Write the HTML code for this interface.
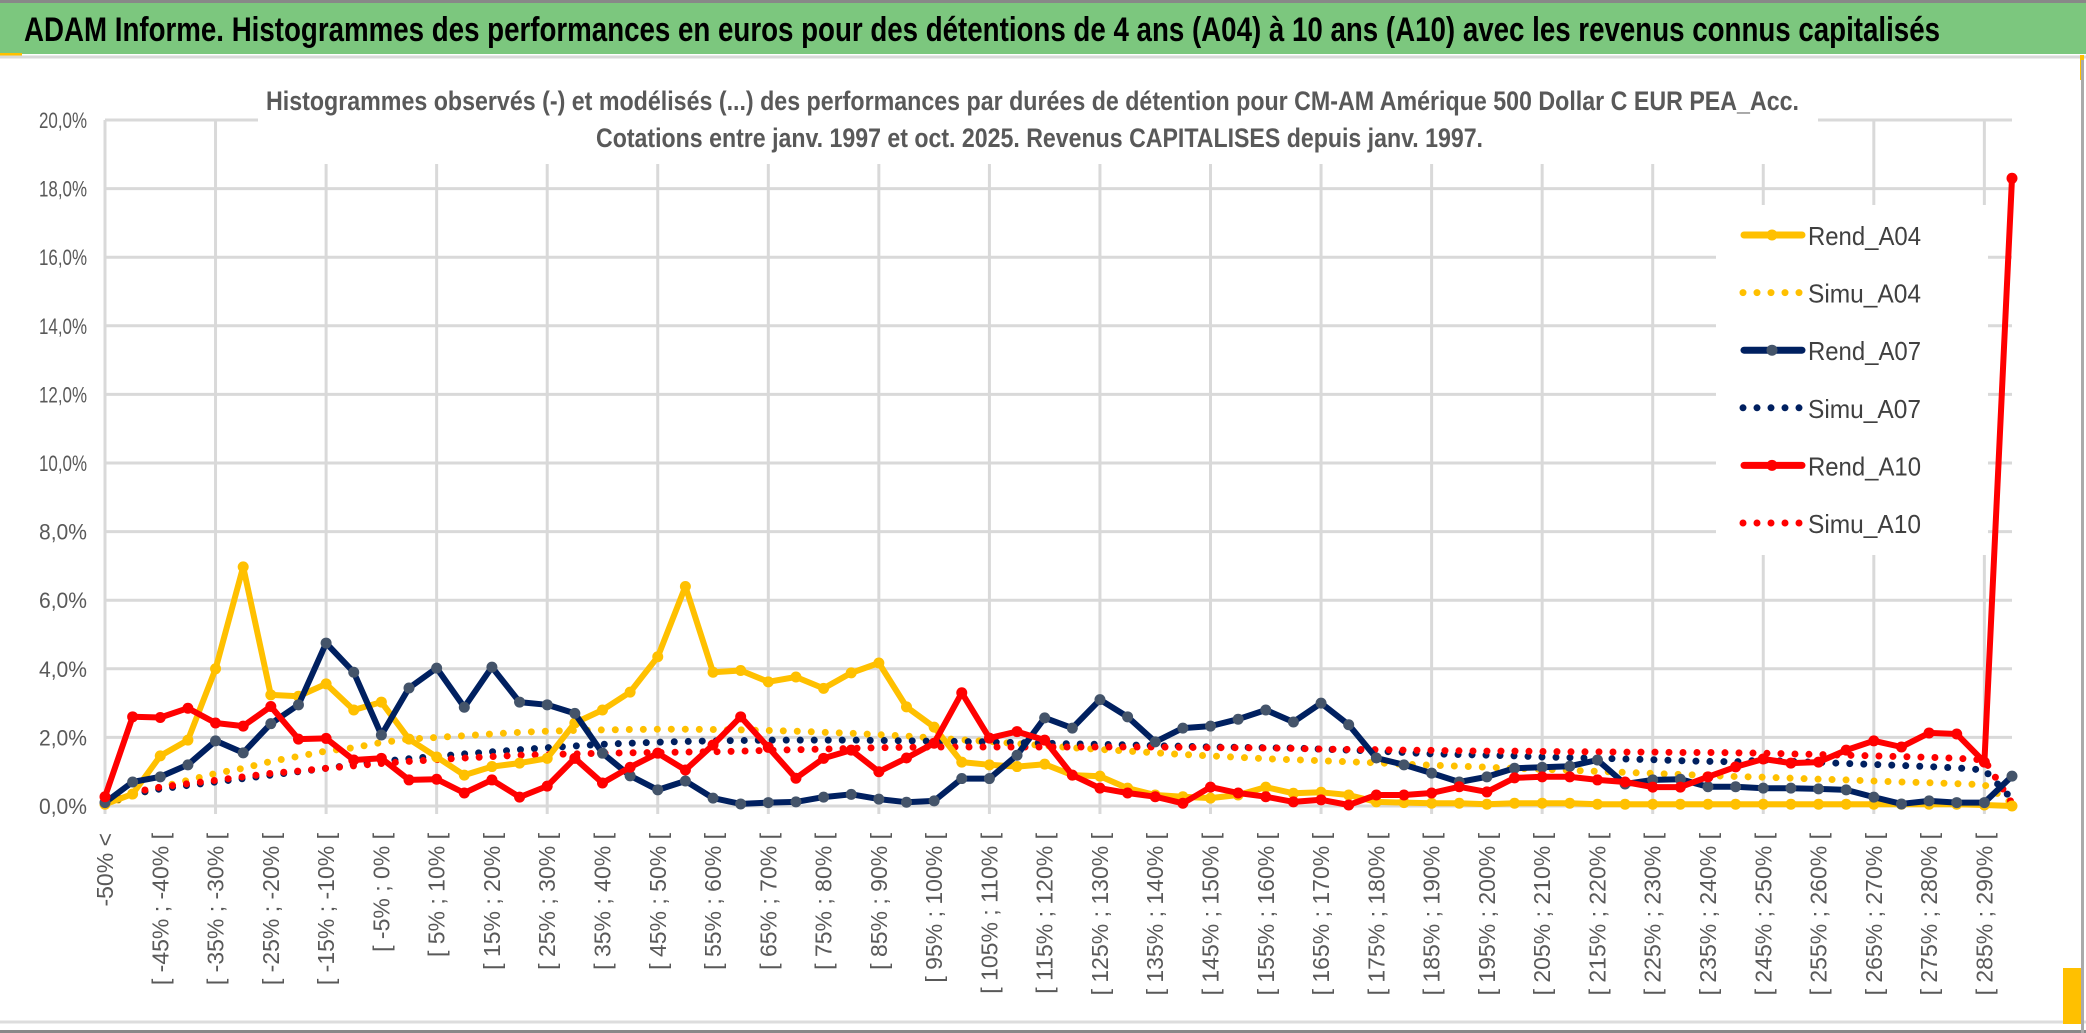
<!DOCTYPE html>
<html><head><meta charset="utf-8"><style>
html,body{margin:0;padding:0;background:#fff;}
svg{display:block;}
</style></head><body>
<svg id="chart" width="2086" height="1033" viewBox="0 0 2086 1033" xmlns="http://www.w3.org/2000/svg" font-family="'Liberation Sans', sans-serif">
<rect x="0" y="0" width="2086" height="1033" fill="#fff"/>
<rect x="0" y="3" width="2086" height="51" fill="#7CC77E"/>
<line x1="0" y1="1.5" x2="2086" y2="1.5" stroke="#888" stroke-width="3"/>
<rect x="0" y="53" width="22" height="3" fill="#FFC000"/>
<line x1="0" y1="57" x2="2086" y2="57" stroke="#d9d9d9" stroke-width="3"/>
<rect x="2080" y="55" width="4" height="25" fill="#FFC000"/>
<text x="24" y="41" font-size="34" font-weight="bold" fill="#000" textLength="1916" lengthAdjust="spacingAndGlyphs">ADAM Informe. Histogrammes des performances en euros pour des détentions de 4 ans (A04) à 10 ans (A10) avec les revenus connus capitalisés</text>
<g id="grid"></g>
<rect x="258" y="80" width="1560" height="84" fill="#fff"/>
<text x="266" y="110" font-size="27" font-weight="bold" fill="#595959" textLength="1533" lengthAdjust="spacingAndGlyphs">Histogrammes observés (-) et modélisés (...) des performances par durées de détention pour CM-AM Amérique 500 Dollar C EUR PEA_Acc.</text>
<text x="596" y="147" font-size="27" font-weight="bold" fill="#595959" textLength="887" lengthAdjust="spacingAndGlyphs">Cotations entre janv. 1997 et oct. 2025. Revenus CAPITALISES depuis janv. 1997.</text>
<rect x="1716" y="205" width="272" height="350" fill="#fff"/>
<g id="yaxis"></g>
<g id="xaxis"></g>
<g id="series"></g>
<g id="legend"></g>
<line x1="0" y1="1022" x2="2086" y2="1022" stroke="#ddd" stroke-width="3"/>
<line x1="0" y1="1031.5" x2="2086" y2="1031.5" stroke="#888" stroke-width="3"/>
<line x1="2082.5" y1="60" x2="2082.5" y2="1033" stroke="#aaa" stroke-width="3"/>
<rect x="2063" y="968" width="18" height="56" fill="#FFC000"/>
</svg>
<script>
const yTicks = [0,2,4,6,8,10,12,14,16,18,20];
const yTickLabels = ["0,0%","2,0%","4,0%","6,0%","8,0%","10,0%","12,0%","14,0%","16,0%","18,0%","20,0%"];
const rendA04 = [0.05,0.35,1.46,1.92,4.0,6.97,3.24,3.2,3.56,2.8,3.03,1.95,1.43,0.9,1.15,1.25,1.39,2.42,2.8,3.32,4.35,6.4,3.9,3.95,3.62,3.76,3.43,3.88,4.17,2.89,2.3,1.28,1.2,1.15,1.22,0.9,0.87,0.52,0.32,0.27,0.23,0.32,0.55,0.37,0.4,0.32,0.12,0.1,0.08,0.08,0.05,0.08,0.08,0.08,0.05,0.05,0.05,0.05,0.05,0.05,0.05,0.05,0.05,0.05,0.05,0.05,0.05,0.05,0.03,0.0];
const simuA04 = [0.05,0.3,0.55,0.75,0.95,1.1,1.3,1.45,1.6,1.7,1.85,1.95,2.0,2.05,2.1,2.15,2.18,2.2,2.22,2.23,2.24,2.24,2.23,2.22,2.2,2.18,2.15,2.12,2.08,2.04,1.98,1.93,1.88,1.82,1.76,1.7,1.65,1.6,1.55,1.5,1.46,1.42,1.38,1.35,1.32,1.29,1.26,1.22,1.19,1.16,1.13,1.1,1.07,1.04,1.01,0.98,0.95,0.92,0.89,0.86,0.84,0.81,0.78,0.76,0.73,0.7,0.68,0.65,0.62,0.08];
const rendA07 = [0.1,0.7,0.85,1.2,1.9,1.55,2.4,2.95,4.75,3.9,2.07,3.44,4.02,2.88,4.05,3.03,2.95,2.7,1.54,0.88,0.47,0.73,0.23,0.06,0.1,0.12,0.26,0.34,0.2,0.11,0.15,0.8,0.8,1.48,2.57,2.27,3.1,2.6,1.87,2.27,2.33,2.53,2.8,2.45,3.0,2.37,1.4,1.2,0.96,0.7,0.85,1.1,1.13,1.16,1.34,0.64,0.76,0.78,0.56,0.56,0.52,0.52,0.5,0.47,0.26,0.06,0.15,0.1,0.1,0.87];
const simuA07 = [0.05,0.35,0.5,0.6,0.7,0.8,0.9,1.0,1.1,1.2,1.3,1.38,1.45,1.52,1.58,1.64,1.7,1.75,1.8,1.83,1.86,1.88,1.9,1.91,1.92,1.92,1.92,1.92,1.91,1.9,1.89,1.88,1.87,1.85,1.83,1.81,1.8,1.78,1.76,1.74,1.72,1.71,1.7,1.69,1.66,1.63,1.6,1.56,1.52,1.5,1.48,1.46,1.43,1.41,1.39,1.37,1.35,1.32,1.3,1.29,1.34,1.3,1.27,1.24,1.21,1.18,1.15,1.11,1.05,0.2];
const rendA10 = [0.27,2.6,2.58,2.85,2.42,2.33,2.9,1.95,1.97,1.34,1.39,0.76,0.78,0.38,0.76,0.26,0.58,1.39,0.67,1.13,1.54,1.05,1.78,2.6,1.71,0.81,1.39,1.63,1.0,1.4,1.83,3.3,1.98,2.17,1.92,0.9,0.52,0.38,0.27,0.08,0.55,0.38,0.27,0.12,0.18,0.03,0.32,0.32,0.38,0.56,0.41,0.82,0.85,0.85,0.76,0.7,0.55,0.55,0.85,1.14,1.37,1.25,1.28,1.63,1.9,1.72,2.13,2.1,1.28,18.3];
const simuA10 = [0.1,0.4,0.55,0.65,0.75,0.85,0.95,1.02,1.1,1.17,1.24,1.3,1.35,1.4,1.44,1.48,1.5,1.52,1.54,1.55,1.56,1.57,1.58,1.6,1.62,1.64,1.66,1.68,1.7,1.71,1.72,1.72,1.72,1.72,1.72,1.72,1.72,1.72,1.72,1.71,1.7,1.7,1.69,1.68,1.66,1.65,1.64,1.63,1.62,1.61,1.6,1.6,1.59,1.58,1.58,1.57,1.57,1.56,1.56,1.55,1.54,1.52,1.5,1.48,1.46,1.44,1.42,1.39,1.34,0.08];
const categories = (function(){const c=["-50% <"];for(let k=1;k<70;k++){const lo=-50+5*(k-1);c.push("[ "+lo+"% ; "+(lo+5)+"% [");}return c;})();
const legendNames = ["Rend_A04","Simu_A04","Rend_A07","Simu_A07","Rend_A10","Simu_A10"];

const NS="http://www.w3.org/2000/svg";
const X0=105, X1=2012, Y0=806, YTOP=120, YMAX=20;
const n=categories.length;
function xPos(i){return X0+(X1-X0)*i/(n-1);}
function yPos(v){return Y0-(Y0-YTOP)*v/YMAX;}
function mk(tag,attrs,parent){const e=document.createElementNS(NS,tag);for(const k in attrs)e.setAttribute(k,attrs[k]);parent.appendChild(e);return e;}

const grid=document.getElementById('grid');
yTicks.forEach(function(t){
  const l=mk('line',{x1:X0,x2:X1,y1:yPos(t),y2:yPos(t),stroke:'#d9d9d9','stroke-width':3},grid);
  
  
});
for(let i=0;i<n;i+=4){
  const l=mk('line',{x1:xPos(i),x2:xPos(i),y1:yPos(20),y2:Y0+8,stroke:'#d9d9d9','stroke-width':3},grid);
  
  
}
const ya=document.getElementById('yaxis');
yTicks.forEach(function(t,k){
  const tx=mk('text',{x:87,y:yPos(t)+8,'text-anchor':'end','font-size':22,fill:'#595959',textLength:48,lengthAdjust:'spacingAndGlyphs'},ya);
  tx.textContent=yTickLabels[k];
  
  
});
const xa=document.getElementById('xaxis');
categories.forEach(function(c,i){
  if(i%2!==0) return;
  const x=xPos(i)+8;
  const tx=mk('text',{x:0,y:0,transform:'translate('+x+',833) rotate(-90)','text-anchor':'end','font-size':23,fill:'#595959'},xa);
  tx.textContent=c;
  
  
});

const sg=document.getElementById('series');
function pts(arr){return arr.map(function(v,i){return xPos(i).toFixed(1)+','+yPos(v).toFixed(1);}).join(' ');}
function dotted(arr,color,name){
  const p=mk('polyline',{points:pts(arr),fill:'none',stroke:color,'stroke-width':7,'stroke-linecap':'round','stroke-dasharray':'0 14'},sg);
  
  
}
function solid(arr,color,mcol,name){
  const g=mk('g',{},sg);
  
  
  mk('polyline',{points:pts(arr),fill:'none',stroke:color,'stroke-width':6,'stroke-linejoin':'round'},g);
  arr.forEach(function(v,i){
    const c=mk('circle',{cx:xPos(i),cy:yPos(v),r:5.5,fill:mcol},g);
    
    
  });
}
dotted(simuA04,'#FFC000','simu-a04-line');
dotted(simuA07,'#002060','simu-a07-line');
dotted(simuA10,'#FF0000','simu-a10-line');
solid(rendA04,'#FFC000','#FFC000','rend-a04-line');
solid(rendA07,'#002060','#44546A','rend-a07-line');
solid(rendA10,'#FF0000','#FF0000','rend-a10-line');

const lg=document.getElementById('legend');
const legStyle=[['#FFC000',false,'#FFC000'],['#FFC000',true],['#002060',false,'#44546A'],['#002060',true],['#FF0000',false,'#FF0000'],['#FF0000',true]];
legendNames.forEach(function(nm,k){
  const y=235+k*57.6;
  const g=mk('g',{},lg);
  
  
  const s=legStyle[k];
  if(s[1]){
    mk('line',{x1:1743,x2:1800,y1:y,y2:y,stroke:s[0],'stroke-width':7,'stroke-linecap':'round','stroke-dasharray':'0 14'},g);
  } else {
    mk('line',{x1:1744,x2:1802,y1:y,y2:y,stroke:s[0],'stroke-width':7,'stroke-linecap':'round'},g);
    mk('circle',{cx:1772,cy:y,r:5.5,fill:s[2]},g);
  }
  const t=mk('text',{x:1808,y:y+10,'font-size':26,fill:'#404040',textLength:113,lengthAdjust:'spacingAndGlyphs'},g);
  t.textContent=nm;
});
</script>
</body></html>
